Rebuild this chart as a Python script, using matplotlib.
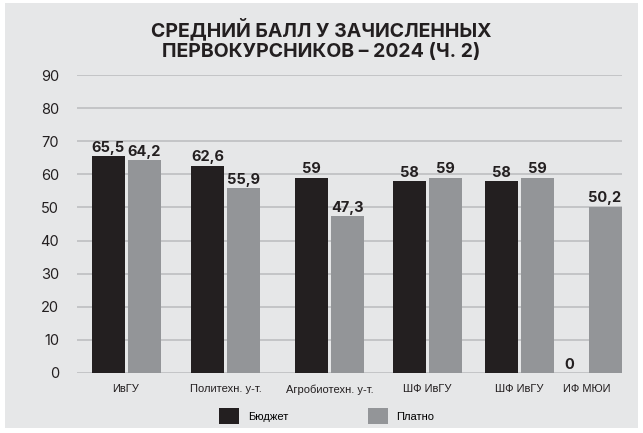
import matplotlib.pyplot as plt
from matplotlib.patches import Rectangle

categories = ["ИвГУ", "Политехн. у-т.", "Агробиотехн. у-т.", "ШФ ИвГУ", "ШФ ИвГУ", "ИФ МЮИ"]
budget = [65.5, 62.6, 59, 58, 58, 0]
paid = [64.2, 55.9, 47.3, 59, 59, 50.2]
yticks = [0, 10, 20, 30, 40, 50, 60, 70, 80, 90]

# layout (pixel-like x units inside the axes)
group_x = [126, 225.5, 329.5, 427, 519, 587]
bar_w = 33
off = 18

black = "#231f20"
grey = "#939598"
bg = "#e6e7e8"

fig = plt.figure(figsize=(6.43, 4.33), dpi=100)
fig.patch.set_facecolor("white")
fig.patches.append(Rectangle((5 / 643, 1 - 428 / 433), 633 / 643, 425 / 433,
                             transform=fig.transFigure, facecolor=bg, edgecolor="none", zorder=-10))

ax = fig.add_axes([77 / 643, (433 - 373) / 433, 545 / 643, 298 / 433])
ax.set_zorder(1)
ax.set_facecolor("none")
ax.set_xlim(77, 622)
ax.set_ylim(0, 90)

xb = [x - off for x in group_x]
xp = [x + off for x in group_x]
b1 = ax.bar(xb, budget, width=bar_w, color=black, zorder=3, label="Бюджет")
b2 = ax.bar(xp, paid, width=bar_w, color=grey, zorder=3, label="Платно")

fmt = lambda v: f"{v:g}".replace(".", ",")
for bars, vals in ((b1, budget), (b2, paid)):
    ax.bar_label(bars, labels=[fmt(v) for v in vals], padding=1,
                 fontsize=10.5, fontweight="bold", color=black, family="Inter")

ax.set_yticks(yticks)
ax.set_yticklabels([str(t) for t in yticks], fontsize=10.5, color=black, family="Inter")
ax.tick_params(axis="y", length=0, pad=13)
ax.set_xticks(group_x)
ax.set_xticklabels(categories, fontsize=8, color=black, family="Liberation Sans")
ax.tick_params(axis="x", length=0, pad=8)
ax.grid(axis="y", color="#c4c5c7", linewidth=1.4, zorder=0)
ax.set_axisbelow(True)
for s in ax.spines.values():
    s.set_visible(False)

fig.text(0.5, 1 - 39 / 433, "СРЕДНИЙ БАЛЛ У ЗАЧИСЛЕННЫХ\nПЕРВОКУРСНИКОВ – 2024 (Ч. 2)",
         ha="center", va="center", fontsize=14, fontweight="bold", color=black,
         family="Inter", linespacing=1.2)

fig.legend(handles=[b1, b2], loc="center", bbox_to_anchor=(327 / 643, 1 - 416 / 433),
           ncol=2, frameon=False, prop={"family": "Liberation Sans", "size": 8},
           handlelength=1.75, handleheight=1.75, handletextpad=0.8, columnspacing=7.2)

fig.savefig("out.png", dpi=100)
